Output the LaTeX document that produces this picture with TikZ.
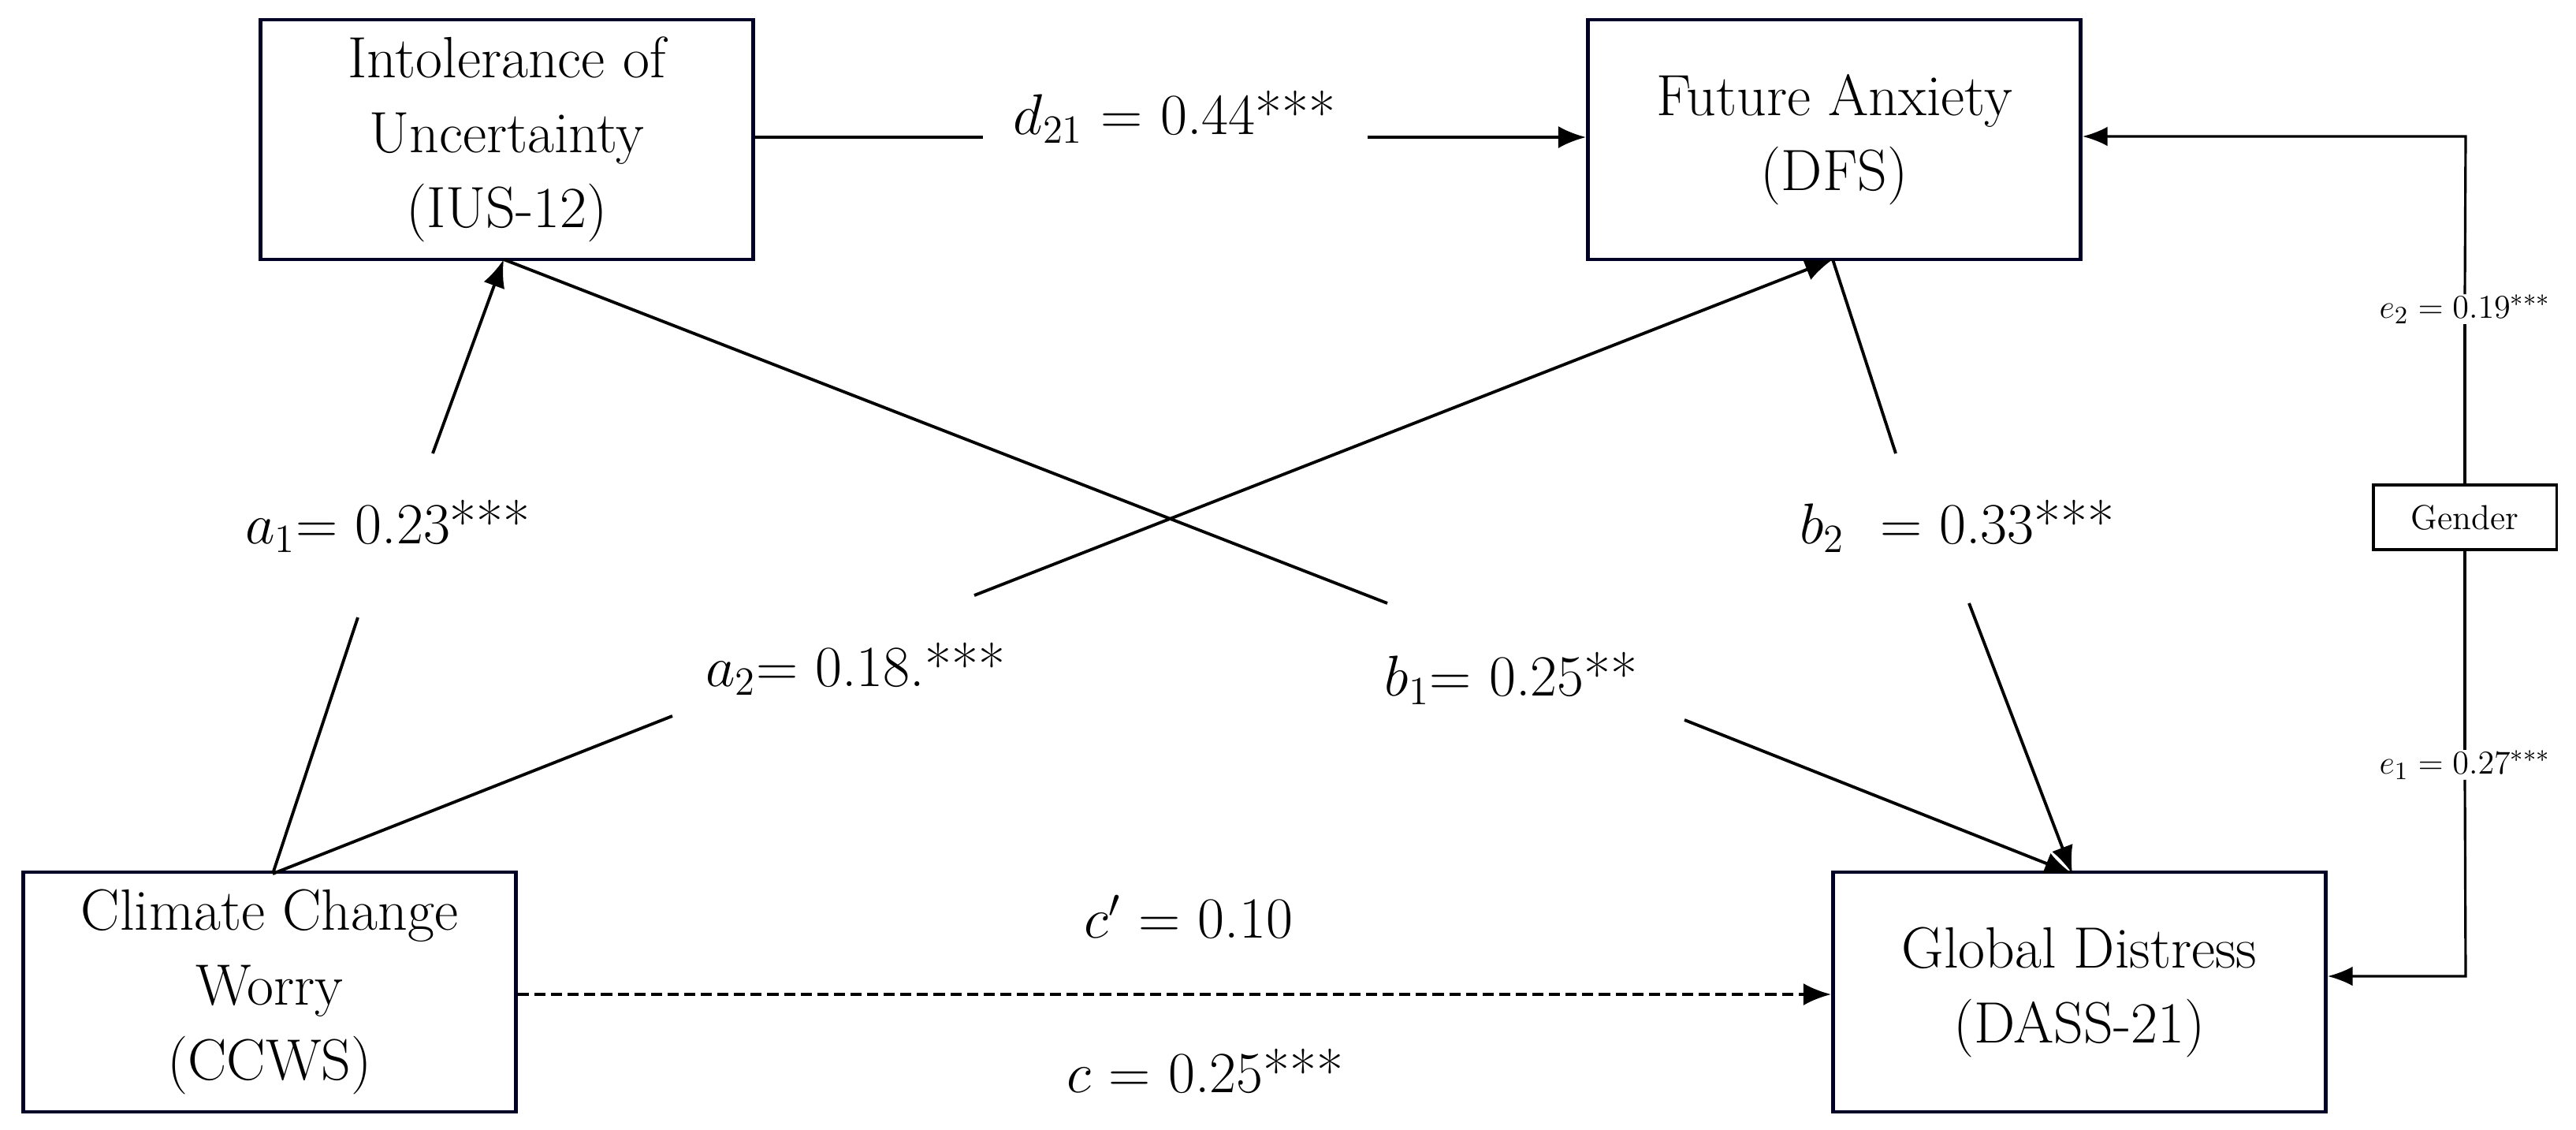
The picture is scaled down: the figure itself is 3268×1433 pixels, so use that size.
\documentclass[tikz,border=0pt]{standalone}
\usetikzlibrary{arrows.meta}
\begin{document}
\begin{tikzpicture}[x=0.01cm,y=-0.01cm,
  box/.style={draw=black!85!blue,line width=1.3pt,minimum width=6.25cm,minimum height=3.04cm,align=center,font=\fontsize{21}{27}\selectfont,inner sep=0pt},
  lab/.style={font=\fontsize{21}{25}\selectfont,inner sep=0pt},
  slab/.style={font=\fontsize{12.5}{15}\selectfont,inner sep=0pt},
  ln/.style={line width=1.1pt},
  arr/.style={line width=1.1pt,-{Latex[length=10pt,width=8pt]}}]
\useasboundingbox (0,0) rectangle (3268,1433);
\node[box] (ius) at (643,177) {Intolerance of\\Uncertainty\\(IUS-12)};
\node[box] (dfs) at (2327,177) {Future Anxiety\\(DFS)};
\node[box] (ccws) at (342,1258) {Climate Change\\Worry\\(CCWS)};
\node[box] (dass) at (2638,1258) {Global Distress\\(DASS-21)};
\node[draw,line width=0.9pt,minimum width=2.32cm,minimum height=0.82cm,slab] (gen) at (3127,656) {Gender};
% labels
\node[lab] (d21) at (1490,148) {$d_{21}$ = 0.44***};
\node[lab] (a1) at (492,667) {$a_1$= 0.23***};
\node[lab] (a2) at (1085,848) {$a_2$= 0.18.***};
\node[lab] (b1) at (1917,860) {$b_1$= 0.25**};
\node[lab] (b2) at (2483,667) {$b_2$\ \ = 0.33***};
\node[lab] (cp) at (1508,1163) {$c'$ = 0.10};
\node[lab] (c) at (1529,1358) {$c$ = 0.25***};
\node[slab] (e2) at (3127,392) {$e_2 = 0.19^{***}$};
\node[slab] (e1) at (3127,970) {$e_1 = 0.27^{***}$};
% coordinates
\coordinate (ccT) at (346,1108);
\coordinate (iuB) at (639,329);
\coordinate (dfB) at (2325,329);
\coordinate (daT) at (2629,1108);
\coordinate (d1) at (1247,174);
\coordinate (d2) at (1735,174);
\coordinate (a1l) at (454,783);
\coordinate (a1h) at (549,575);
\coordinate (a2l) at (853,908);
\coordinate (a2h) at (1236,755);
\coordinate (b1h) at (1760,765);
\coordinate (b1l) at (2137,913);
\coordinate (b2h) at (2405,575);
\coordinate (b2l) at (2498,765);
\coordinate (gT) at (3128,173);
\coordinate (gB) at (3128,1238);
% connectors
\draw[ln] (ius.east |- d1) -- (d1);
\draw[arr] (d2) -- (dfs.west |- d2);
\draw[ln] (ccT) -- (a1l);
\draw[arr] (a1h) -- (iuB);
\draw[ln] (ccT) -- (a2l);
\draw[arr] (a2h) -- (dfB);
\draw[ln] (iuB) -- (b1h);
\draw[arr] (b1l) -- (daT);
\draw[ln] (dfB) -- (b2h);
\draw[arr] (b2l) -- (daT);
\draw[arr,dash pattern=on 4pt off 2pt] (ccws.east |- 0,1261) -- (dass.west |- 0,1261);
\draw[line width=0.9pt] (gen.north) -- (e2.south);
\draw[line width=0.9pt,-{Latex[length=9pt,width=7pt]}] (e2.north) -- (gT) -- (dfs.east |- gT);
\draw[line width=0.9pt] (gen.south) -- (e1.north);
\draw[line width=0.9pt,-{Latex[length=9pt,width=7pt]}] (e1.south) -- (gB) -- (dass.east |- gB);
\end{tikzpicture}
\end{document}
